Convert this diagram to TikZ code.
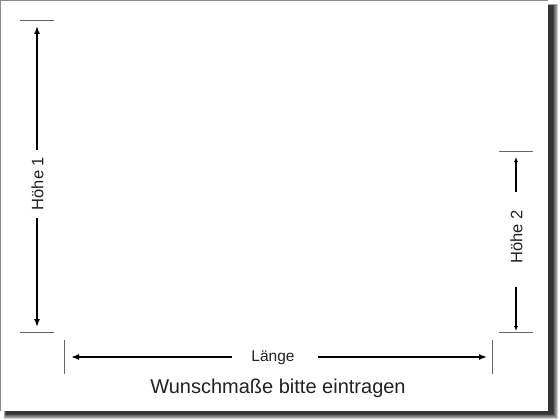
\documentclass[tikz,border=0pt]{standalone}
\usepackage{fontspec}
\setmainfont{Liberation Sans}
\usetikzlibrary{arrows.meta}
\definecolor{tickgray}{HTML}{666666}
\definecolor{framegray}{HTML}{8A8A8A}
\definecolor{txt}{HTML}{222222}
\tikzset{
  tickline/.style={draw=tickgray, line width=0.9pt},
  dimbig/.style={draw=black, line width=1.5pt, -{Latex[length=8pt,width=6pt]}},
  dimsmall/.style={draw=black, line width=1.2pt, -{Latex[length=5pt,width=4pt]}},
  lbl/.style={font=\fontsize{16.5}{16.5}\selectfont, text=txt, inner sep=0pt},
}
\begin{document}
\begin{tikzpicture}[x=1pt,y=-1pt]
\useasboundingbox (0,0) rectangle (560,420);
\fill[white] (0,0) rectangle (560,420);
% shadow
\foreach \i in {0,...,6} {
  \fill[black, opacity=0.2] (4+\i*0.3,4+\i*0.3) rectangle (557.5-\i*0.8,418.5-\i*0.8);
}
% sheet
\fill[white] (0,0) rectangle (548,411);
\draw[framegray, line width=1pt] (548,0.5) -- (0.5,0.5) -- (0.5,411);

% Hoehe 1
\coordinate (h1tl) at (20,20); \coordinate (h1tr) at (54,20);
\coordinate (h1bl) at (20,332); \coordinate (h1br) at (54,332);
\draw[tickline] (h1tl) -- (h1tr);
\draw[tickline] (h1bl) -- (h1br);
\coordinate (h1top) at (37,26); \coordinate (h1bot) at (37,327);
\coordinate (h1ga) at (37,150); \coordinate (h1gb) at (37,218);
\node[lbl, rotate=90] (h1lbl) at (37.5,183.5) {Höhe 1};
\draw[dimbig] (h1ga) -- (h1top);
\draw[dimbig] (h1gb) -- (h1bot);

% Hoehe 2
\coordinate (h2tl) at (499,151); \coordinate (h2tr) at (533,151);
\coordinate (h2bl) at (499,332); \coordinate (h2br) at (533,332);
\draw[tickline] (h2tl) -- (h2tr);
\draw[tickline] (h2bl) -- (h2br);
\coordinate (h2top) at (516,157); \coordinate (h2bot) at (516,331);
\coordinate (h2ga) at (516,192); \coordinate (h2gb) at (516,287);
\node[lbl, rotate=90] (h2lbl) at (516.5,237) {Höhe 2};
\draw[dimsmall] (h2ga) -- (h2top);
\draw[dimsmall] (h2gb) -- (h2bot);

% Laenge
\coordinate (lt1) at (64,340); \coordinate (lb1) at (64,374);
\coordinate (lt2) at (492,340); \coordinate (lb2) at (492,374);
\draw[tickline] (lt1) -- (lb1);
\draw[tickline] (lt2) -- (lb2);
\coordinate (lleft) at (71,357); \coordinate (lright) at (487,357);
\coordinate (lga) at (232,357); \coordinate (lgb) at (318,357);
\node[lbl, font=\fontsize{15.5}{15.5}\selectfont, anchor=base] (llbl) at (273,361.7) {Länge};
\draw[dimbig] (lga) -- (lleft);
\draw[dimbig] (lgb) -- (lright);

\node[lbl, font=\fontsize{20}{20}\selectfont, anchor=base] (note) at (278,393) {Wunschmaße bitte eintragen};
\end{tikzpicture}
\end{document}
